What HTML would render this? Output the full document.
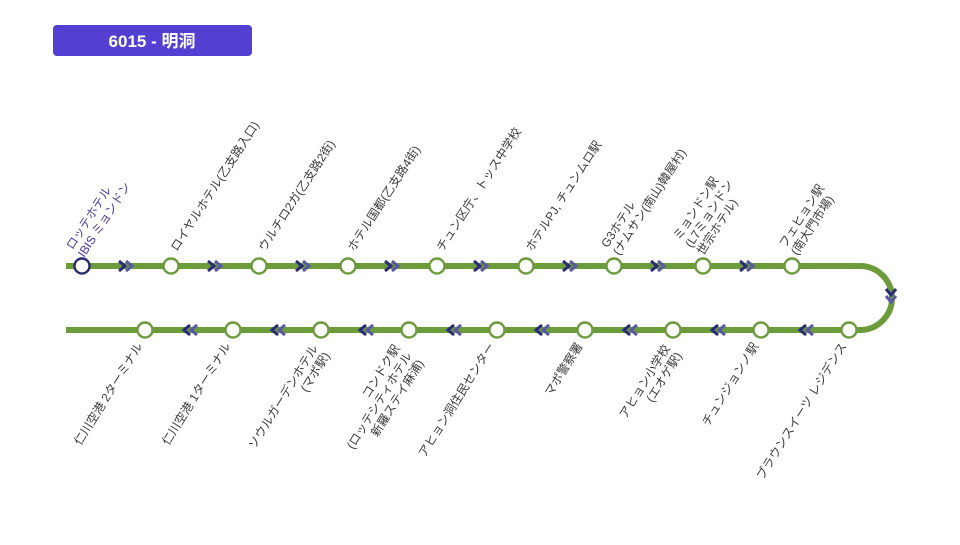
<!DOCTYPE html>
<html><head><meta charset="utf-8"><style>
body{margin:0;background:#fff;width:960px;height:540px;overflow:hidden}
svg text{font-family:"Liberation Sans","Noto Sans CJK JP",sans-serif;font-size:12px;fill:#3a3a3a}
</style></head><body>
<svg width="960" height="540" viewBox="0 0 960 540" xmlns="http://www.w3.org/2000/svg">
<defs>
<g id="r"><path d="M119 261 L125 266 L119 271" stroke="#2c2a7c"/><path d="M126 261 L132 266 L126 271" stroke="#5a56a8"/></g>
<g id="l"><path d="M190 325 L184 330 L190 335" stroke="#2c2a7c"/><path d="M197 325 L191 330 L197 335" stroke="#5a56a8"/></g>
</defs>
<rect x="53" y="25" width="199" height="31" rx="4" fill="#5340d3"/>
<text x="152" y="47" text-anchor="middle" style="font-size:17px;font-weight:bold;fill:#fff">6015 - 明洞</text>
<path d="M66 266 H860 A32 32 0 0 1 860 330 H66" fill="none" stroke="#6b9b3a" stroke-width="6"/>
<g fill="none" stroke-width="3" stroke-linejoin="miter">
<use href="#r" x="0"/><use href="#r" x="89"/><use href="#r" x="177"/><use href="#r" x="266"/><use href="#r" x="355"/><use href="#r" x="444"/><use href="#r" x="532"/><use href="#r" x="621"/>
<use href="#l" x="0"/><use href="#l" x="88"/><use href="#l" x="176"/><use href="#l" x="264"/><use href="#l" x="352"/><use href="#l" x="440"/><use href="#l" x="528"/><use href="#l" x="616"/>
<path d="M886 289 L891 295 L896 289" stroke="#2c2a7c"/><path d="M886 296 L891 302 L896 296" stroke="#5a56a8"/>
</g>
<g fill="#fff" stroke="#6b9b3a" stroke-width="2.4">
<circle cx="82" cy="266" r="7.5" stroke="#2c2a6e"/>
<circle cx="171" cy="266" r="7.5"/><circle cx="259" cy="266" r="7.5"/><circle cx="348" cy="266" r="7.5"/><circle cx="437" cy="266" r="7.5"/><circle cx="526" cy="266" r="7.5"/><circle cx="614" cy="266" r="7.5"/><circle cx="703" cy="266" r="7.5"/><circle cx="792" cy="266" r="7.5"/>
<circle cx="849" cy="330" r="7.5"/><circle cx="761" cy="330" r="7.5"/><circle cx="673" cy="330" r="7.5"/><circle cx="585" cy="330" r="7.5"/><circle cx="497" cy="330" r="7.5"/><circle cx="409" cy="330" r="7.5"/><circle cx="321" cy="330" r="7.5"/><circle cx="233" cy="330" r="7.5"/><circle cx="145" cy="330" r="7.5"/>
</g>
<g transform="translate(75,252) rotate(-57)"><text x="0" y="-3" style="fill:#4b3aa6">ロッテホテル</text><text x="0" y="11" style="fill:#4b3aa6">IBIS ミョンドン</text></g>
<g transform="translate(177,252) rotate(-57)"><text x="0" y="0">ロイヤルホテル(乙支路入口)</text></g>
<g transform="translate(265,252) rotate(-57)"><text x="0" y="0">ウルチロ2ガ(乙支路2街)</text></g>
<g transform="translate(354,252) rotate(-57)"><text x="0" y="0">ホテル国都(乙支路4街)</text></g>
<g transform="translate(443,252) rotate(-57)"><text x="0" y="0">チュン区庁、トッス中学校</text></g>
<g transform="translate(532,252) rotate(-57)"><text x="0" y="0">ホテルPJ, チュンムロ駅</text></g>
<g transform="translate(610,250) rotate(-57)"><text x="0" y="-3">G3ホテル</text><text x="0" y="11">(ナムサン(南山)韓屋村)</text></g>
<g transform="translate(694,250) rotate(-57)"><text x="0" y="-17">ミョンドン駅</text><text x="0" y="-3">(L7ミョンドン</text><text x="0" y="11">世宗ホテル)</text></g>
<g transform="translate(788,250) rotate(-57)"><text x="0" y="-3">フェヒョン駅</text><text x="0" y="11">(南大門市場)</text></g>
<g transform="translate(143,346) rotate(-58)"><text x="0" y="0" text-anchor="end">仁川空港 2ターミナル</text></g>
<g transform="translate(231,346) rotate(-58)"><text x="0" y="0" text-anchor="end">仁川空港 1ターミナル</text></g>
<g transform="translate(315,346) rotate(-58)"><text x="0" y="4" text-anchor="end">ソウルガーデンホテル</text><text x="0" y="18" text-anchor="end">(マポ駅)</text></g>
<g transform="translate(397,346) rotate(-58)"><text x="0" y="4" text-anchor="end">コンドク駅</text><text x="0" y="18" text-anchor="end">(ロッテシティホテル</text><text x="0" y="32" text-anchor="end">新羅ステイ麻浦)</text></g>
<g transform="translate(495,346) rotate(-58)"><text x="0" y="0" text-anchor="end">アヒョン洞住民センター</text></g>
<g transform="translate(583,346) rotate(-58)"><text x="0" y="0" text-anchor="end">マポ警察署</text></g>
<g transform="translate(667,346) rotate(-58)"><text x="0" y="4" text-anchor="end">アヒョン小学校</text><text x="0" y="18" text-anchor="end">(エオゲ駅)</text></g>
<g transform="translate(759,346) rotate(-58)"><text x="0" y="0" text-anchor="end">チュンジョンノ駅</text></g>
<g transform="translate(847,346) rotate(-58)"><text x="0" y="0" text-anchor="end">ブラウンスイーツ レジデンス</text></g>
</svg>
</body></html>
